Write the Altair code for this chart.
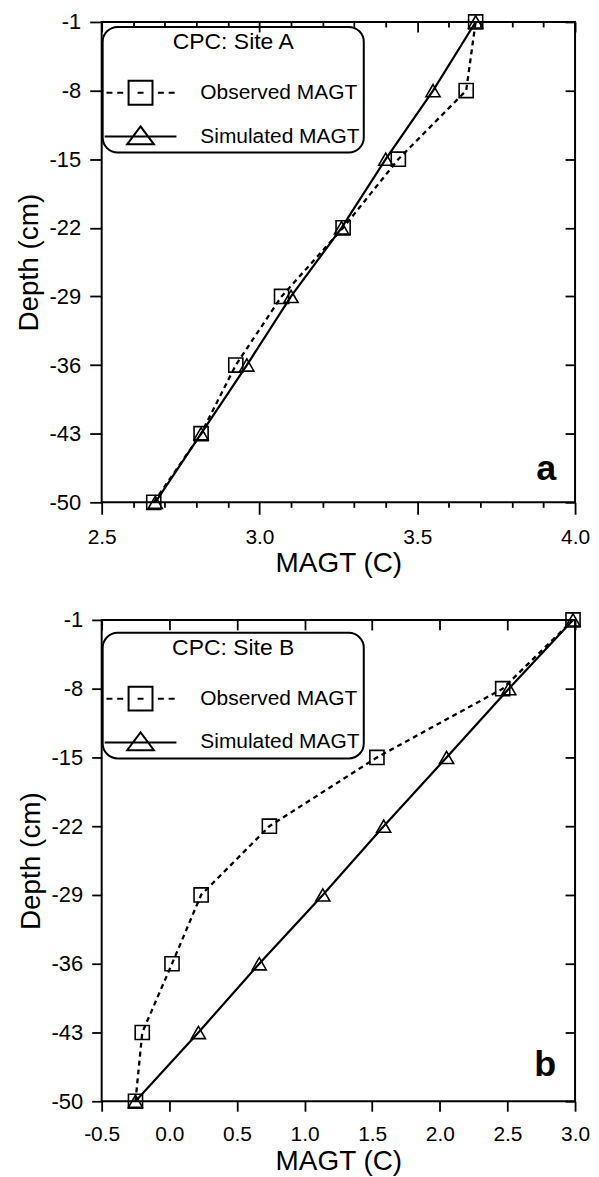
import altair as alt
import pandas as pd

# ---- data ----
depth = [-1, -8, -15, -22, -29, -36, -43, -50]
obs_a = [3.685, 3.655, 3.44, 3.265, 3.07, 2.925, 2.815, 2.665]
sim_a = [3.685, 3.55, 3.40, 3.26, 3.10, 2.96, 2.815, 2.67]
obs_b = [2.985, 2.465, 1.535, 0.74, 0.235, 0.02, -0.20, -0.25]
sim_b = [2.985, 2.51, 2.05, 1.585, 1.135, 0.665, 0.215, -0.25]
series_names = ["Observed MAGT", "Simulated MAGT"]
site_titles = ["CPC: Site A", "CPC: Site B"]
panel_letters = ["a", "b"]
x_major_a = [2.5, 3.0, 3.5, 4.0]
x_minor_a = [2.6, 2.7, 2.8, 2.9, 3.1, 3.2, 3.3, 3.4, 3.6, 3.7, 3.8, 3.9]
x_major_b = [-0.5, 0.0, 0.5, 1.0, 1.5, 2.0, 2.5, 3.0]
x_domain_a = [2.5, 4.0]
x_domain_b = [-0.5, 3.0]
y_domain = [-50, -1]
x_title = "MAGT (C)"
y_title = "Depth (cm)"

FONT = "Liberation Sans"
HYPHEN = "replace(datum.label, '\u2212', '-')"

# legend symbols: line with marker (unit coords, scaled by sqrt(size)/2)
OBS_PATH = ("M-1.1,0H-0.6M-0.2,0H0.3M1.5,0H2M3.2,0H3.7M4.1,0H4.6"
            "M0.75,-1H2.75V1H0.75Z")
SIM_PATH = "M-1.25,0H4.75M1.75,-0.85L2.87,0.65H0.63Z"


def make_df(obs, sim):
    return pd.DataFrame({
        "depth": depth + depth,
        "temp": obs + sim,
        "series": [series_names[0]] * len(depth) + [series_names[1]] * len(depth),
    })


def panel(df, xdom, xmajor, xminor, site, letter, w, h, tick, xlabpad, xtitlepad,
          leg_x, leg_y, t_dx, t_dy):
    xs = alt.Scale(domain=xdom, nice=False, zero=False)
    ys = alt.Scale(domain=y_domain, nice=False, zero=False)
    base = alt.Chart(df)
    obs = base.transform_filter(alt.datum.series == series_names[0])
    sim = base.transform_filter(alt.datum.series == series_names[1])

    ax_bottom = alt.Axis(orient="bottom", values=xmajor, format=".1f", labelExpr=HYPHEN,
                         labelFlush=False, tickSize=tick, labelFontSize=21,
                         labelPadding=xlabpad, titlePadding=xtitlepad,
                         domain=False, grid=False)
    ax_left = alt.Axis(orient="left", values=depth, format="d", labelExpr=HYPHEN,
                       labelFlush=False, tickSize=tick, labelFontSize=22, labelPadding=9,
                       titlePadding=6, domain=False, grid=False)
    ax_right = alt.Axis(orient="right", values=depth, tickSize=10, offset=-10,
                        labels=False, domain=False, grid=False)
    ax_top = alt.Axis(orient="top", values=xmajor, tickSize=10, offset=-10,
                      labels=False, domain=False, grid=False)

    if xminor:
        ax_bmin = alt.Axis(orient="bottom", values=xminor, tickSize=5, labels=False,
                           domain=False, grid=False)
        ax_tmin = alt.Axis(orient="top", values=xminor, tickSize=5, offset=-5,
                           labels=False, domain=False, grid=False)
        x_bmin = alt.X("temp:Q", scale=xs, axis=ax_bmin, title=None)
        x_tmin = alt.X("temp:Q", scale=xs, axis=ax_tmin, title=None)
    else:
        x_bmin = alt.X("temp:Q", scale=xs, axis=None)
        x_tmin = alt.X("temp:Q", scale=xs, axis=None)

    obs_line = obs.mark_line(color="black", strokeWidth=2.3, strokeDash=[5, 4]).encode(
        x=alt.X("temp:Q", scale=xs, axis=ax_bottom, title=x_title),
        y=alt.Y("depth:Q", scale=ys, axis=ax_left, title=y_title),
        order="depth:Q",
    )
    obs_pts = obs.mark_point(shape="square", size=200, filled=False, color="black",
                             strokeWidth=1.6, opacity=1).encode(
        x=x_bmin,
        y=alt.Y("depth:Q", scale=ys, axis=ax_right, title=None),
    )
    sim_line = sim.mark_line(color="black", strokeWidth=2.2).encode(
        x=alt.X("temp:Q", scale=xs, axis=ax_top, title=None),
        y=alt.Y("depth:Q", scale=ys, axis=None),
        order="depth:Q",
    )
    sim_pts = sim.mark_point(shape="triangle-up", size=200, filled=False, color="black",
                             strokeWidth=1.6, opacity=1).encode(
        x=x_tmin,
        y=alt.Y("depth:Q", scale=ys, axis=None),
    )
    legend_layer = base.transform_filter("false").mark_point(
        size=576, filled=False, color="black", opacity=1, strokeWidth=2
    ).encode(
        shape=alt.Shape(
            "series:N",
            scale=alt.Scale(domain=series_names, range=[OBS_PATH, SIM_PATH]),
            legend=alt.Legend(
                title=site, orient="none", legendX=leg_x, legendY=leg_y,
                titleAnchor="middle", titleFont=FONT, titleFontSize=23,
                titleFontWeight="normal", titleColor="black", titlePadding=26,
                labelFont=FONT, labelFontSize=21, labelColor="black", labelOffset=68,
                labelLimit=0, rowPadding=13, padding=4, strokeColor="black",
                cornerRadius=15, symbolSize=576, symbolStrokeWidth=2,
                symbolStrokeColor="black", symbolFillColor="transparent",
                symbolOpacity=1,
            ),
        )
    )
    return alt.layer(obs_line, sim_line, obs_pts, sim_pts, legend_layer).resolve_axis(
        x="independent", y="independent"
    ).properties(
        width=w, height=h,
        title=alt.TitleParams(text=letter, orient="top", anchor="end", frame="group",
                              font=FONT, fontSize=36, fontWeight="bold", color="black",
                              baseline="alphabetic", offset=0, dx=t_dx, dy=t_dy),
    )


pa = panel(make_df(obs_a, sim_a), x_domain_a, x_major_a, x_minor_a, site_titles[0],
           panel_letters[0], 475, 482, 12, 12, 2, 1, 5, -19, 507)
pb = panel(make_df(obs_b, sim_b), x_domain_b, x_major_b, [], site_titles[1],
           panel_letters[1], 475, 483, 10, 12, 3, 1, 13, -19, 505)

chart = alt.vconcat(pa, pb, spacing=30).resolve_scale(
    shape="independent"
).resolve_legend(
    shape="independent"
).properties(
    padding={"left": 6, "top": 0, "right": 0, "bottom": 0}
).configure(background="white").configure_view(
    stroke="black", strokeWidth=2
).configure_axis(
    labelFont=FONT, titleFont=FONT, labelFontSize=21, titleFontSize=28,
    titleFontWeight="normal", labelColor="black", titleColor="black",
    tickColor="black", tickWidth=1.8,
).configure_legend(strokeWidth=2)

chart.save("out.html", embed_options={"renderer": "svg", "actions": False})
